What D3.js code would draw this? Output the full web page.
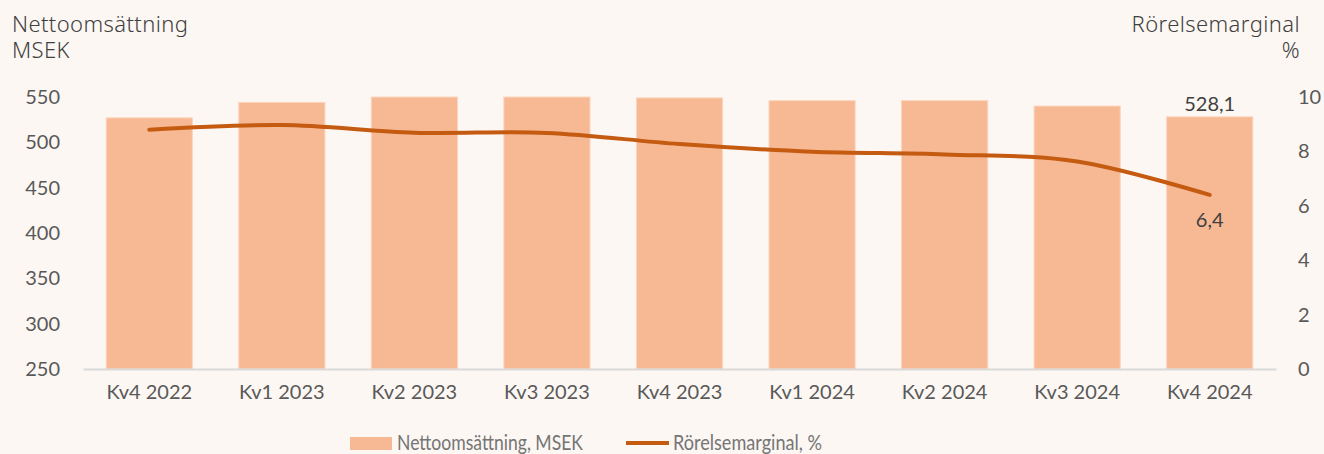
<!DOCTYPE html>
<html lang="sv">
<head>
  <meta charset="UTF-8">
  <title>Nettoomsättning och rörelsemarginal</title>
  <script src="https://cdn.jsdelivr.net/npm/d3@7"></script>
  <style>
    body { margin: 0; background: #fcf7f3; }
    svg { display: block; }
  </style>
</head>
<body>
</body>
<script>
  const quarters = ['Kv4 2022', 'Kv1 2023', 'Kv2 2023', 'Kv3 2023', 'Kv4 2023', 'Kv1 2024', 'Kv2 2024', 'Kv3 2024', 'Kv4 2024']
  const netSales = [527, 544, 550, 550, 549, 546, 546, 540, 528.1]
  const opMargin = [8.8, 8.97, 8.69, 8.68, 8.27, 7.99, 7.89, 7.63, 6.4]
  const leftTicks = [250, 300, 350, 400, 450, 500, 550]
  const rightTicks = [0, 2, 4, 6, 8, 10]

  drawChart()

  function drawChart() {
    const width = 1324
    const height = 454
    const margin = { top: 97, right: 48, bottom: 85, left: 83 }
    const barColor = '#f7b994'
    const lineColor = '#c55a11'
    const textColor = '#595959'
    const tickFont = 'Lato, "Open Sans", sans-serif'
    const titleFont = '"Noto Sans", "Open Sans", sans-serif'

    const svg = d3.select('body').append('svg').attr('width', width).attr('height', height)
    svg.append('rect').attr('width', width).attr('height', height).attr('fill', '#fcf7f3')

    const x = d3.scaleBand()
      .domain(quarters)
      .range([margin.left, width - margin.right])
      .paddingInner(0.35)
      .paddingOuter(0.175)

    const yLeft = d3.scaleLinear()
      .domain([250, 550])
      .range([height - margin.bottom, margin.top])

    const yRight = d3.scaleLinear()
      .domain([0, 10])
      .range([height - margin.bottom, margin.top])

    // vänster axel
    svg.append('g')
      .attr('transform', `translate(${margin.left},0)`)
      .call(d3.axisLeft(yLeft).tickValues(leftTicks).tickSize(0).tickPadding(23))
      .call(g => g.select('.domain').remove())
      .call(g => g.selectAll('text')
        .style('font-family', tickFont).style('font-size', '20px').attr('fill', textColor))

    // höger axel
    svg.append('g')
      .attr('transform', `translate(${width - margin.right},0)`)
      .call(d3.axisRight(yRight).tickValues(rightTicks).tickSize(0).tickPadding(22))
      .call(g => g.select('.domain').remove())
      .call(g => g.selectAll('text')
        .style('font-family', tickFont).style('font-size', '20px').attr('fill', textColor))

    // staplar
    svg.append('g')
      .selectAll('rect')
      .data(netSales)
      .join('rect')
      .attr('x', (d, i) => x(quarters[i]))
      .attr('y', d => yLeft(d))
      .attr('width', x.bandwidth())
      .attr('height', d => yLeft(250) - yLeft(d))
      .attr('fill', barColor)
      .attr('stroke', '#fbd5bd')
      .attr('stroke-width', 1)

    // x-axel
    svg.append('g')
      .attr('transform', `translate(0,${height - margin.bottom})`)
      .call(d3.axisBottom(x).tickSize(0).tickPadding(16))
      .call(g => g.select('.domain').attr('stroke', '#d9d9d9').attr('stroke-width', 2))
      .call(g => g.selectAll('text')
        .style('font-family', tickFont).style('font-size', '20px').attr('fill', textColor))

    // linje
    const line = d3.line()
      .x((d, i) => x(quarters[i]) + x.bandwidth() / 2)
      .y(d => yRight(d))
      .curve(d3.curveCatmullRom.alpha(0.5))

    svg.append('path')
      .datum(opMargin)
      .attr('d', line)
      .attr('fill', 'none')
      .attr('stroke', lineColor)
      .attr('stroke-width', 4)
      .attr('stroke-linecap', 'round')

    // datatext
    const last = quarters.length - 1
    const lastX = x(quarters[last]) + x.bandwidth() / 2
    svg.append('text')
      .attr('x', lastX).attr('y', yLeft(netSales[last]) - 6)
      .attr('text-anchor', 'middle')
      .style('font-family', tickFont).style('font-size', '20px')
      .attr('fill', '#404040')
      .text(d3.format('.1f')(netSales[last]).replace('.', ','))
    svg.append('text')
      .attr('x', lastX).attr('y', yRight(opMargin[last]) + 32)
      .attr('text-anchor', 'middle')
      .style('font-family', tickFont).style('font-size', '20px')
      .attr('fill', '#404040')
      .text(d3.format('.1f')(opMargin[last]).replace('.', ','))

    // axeltitlar
    const leftTitle = svg.append('text')
      .attr('x', 12).attr('y', 32)
      .style('font-family', titleFont).style('font-size', '22px').style('font-weight', 300)
      .style('letter-spacing', '0.4px')
      .attr('fill', '#404040')
    leftTitle.append('tspan').attr('x', 12).text('Nettoomsättning')
    leftTitle.append('tspan').attr('x', 12).attr('dy', 26).text('MSEK')

    const rightTitle = svg.append('text')
      .attr('x', 1300).attr('y', 32)
      .attr('text-anchor', 'end')
      .style('font-family', titleFont).style('font-size', '22px').style('font-weight', 300)
      .style('letter-spacing', '0.4px')
      .attr('fill', '#404040')
    rightTitle.append('tspan').attr('x', 1300).text('Rörelsemarginal')
    rightTitle.append('tspan').attr('x', 1300).attr('dy', 26).text('%')

    // legend
    const legend = svg.append('g').attr('transform', 'translate(0,450)')
    legend.append('rect')
      .attr('x', 350).attr('y', -13).attr('width', 42).attr('height', 13)
      .attr('fill', barColor)
    legend.append('text')
      .attr('x', 397).attr('y', 0)
      .attr('textLength', 186).attr('lengthAdjust', 'spacingAndGlyphs')
      .style('font-family', tickFont).style('font-size', '21px')
      .attr('fill', '#757575')
      .text('Nettoomsättning, MSEK')
    legend.append('line')
      .attr('x1', 626).attr('x2', 669).attr('y1', -7).attr('y2', -7)
      .attr('stroke', lineColor).attr('stroke-width', 4)
    legend.append('text')
      .attr('x', 673).attr('y', 0)
      .attr('textLength', 149).attr('lengthAdjust', 'spacingAndGlyphs')
      .style('font-family', tickFont).style('font-size', '21px')
      .attr('fill', '#757575')
      .text('Rörelsemarginal, %')
  }
</script>
</html>
